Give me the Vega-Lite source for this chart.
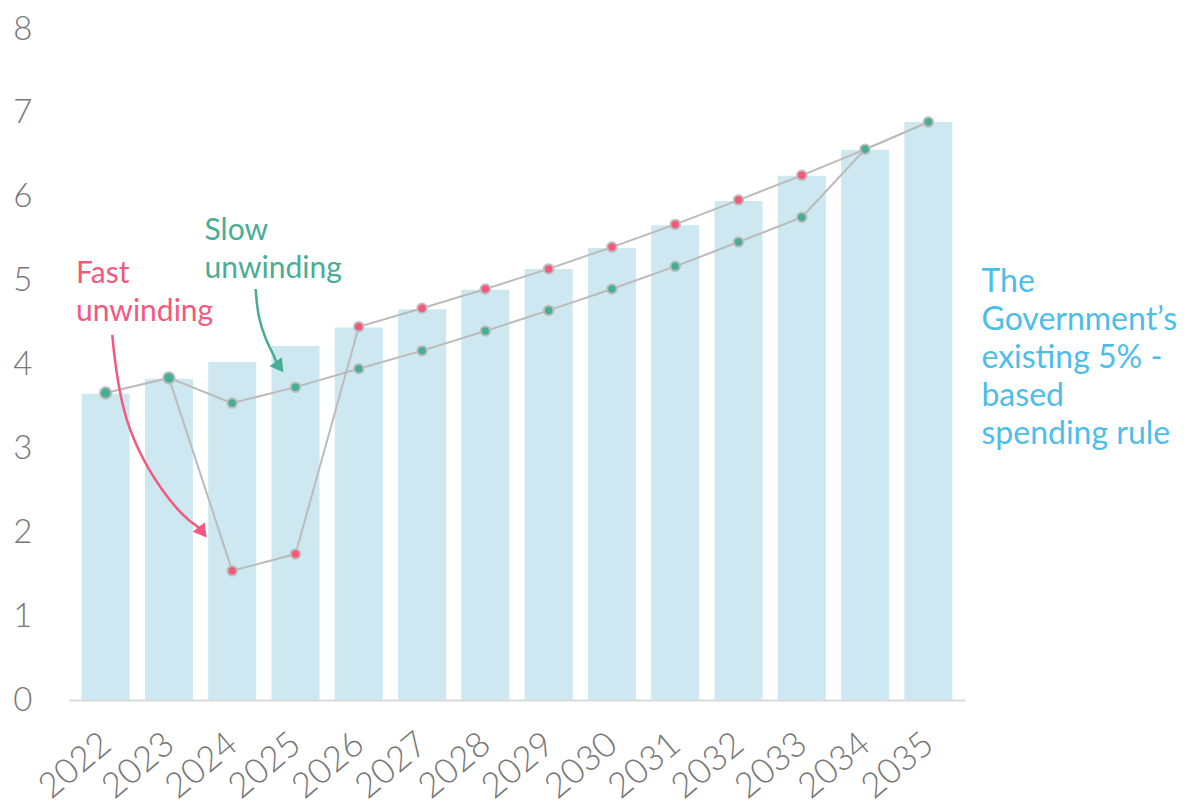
{
  "$schema": "https://vega.github.io/schema/vega-lite/v6.json",
  "width": 896,
  "height": 671,
  "autosize": {"type": "none"},
  "padding": {"left": 69, "top": 29, "right": 221, "bottom": 107},
  "background": "white",
  "config": {
    "view": {"stroke": null},
    "font": "Lato"
  },
  "datasets": {
    "bars": [
      {"year": 2022, "value": 3.65},
      {"year": 2023, "value": 3.83},
      {"year": 2024, "value": 4.03},
      {"year": 2025, "value": 4.22},
      {"year": 2026, "value": 4.44},
      {"year": 2027, "value": 4.66},
      {"year": 2028, "value": 4.89},
      {"year": 2029, "value": 5.14},
      {"year": 2030, "value": 5.39},
      {"year": 2031, "value": 5.66},
      {"year": 2032, "value": 5.95},
      {"year": 2033, "value": 6.25},
      {"year": 2034, "value": 6.56},
      {"year": 2035, "value": 6.89}
    ],
    "slow": [
      {"year": 2022, "value": 3.66},
      {"year": 2023, "value": 3.84},
      {"year": 2024, "value": 3.54},
      {"year": 2025, "value": 3.73},
      {"year": 2026, "value": 3.95},
      {"year": 2027, "value": 4.165},
      {"year": 2028, "value": 4.40},
      {"year": 2029, "value": 4.645},
      {"year": 2030, "value": 4.90},
      {"year": 2031, "value": 5.17},
      {"year": 2032, "value": 5.46},
      {"year": 2033, "value": 5.755},
      {"year": 2034, "value": 6.565},
      {"year": 2035, "value": 6.89}
    ],
    "fast": [
      {"year": 2023, "value": 3.84},
      {"year": 2024, "value": 1.54},
      {"year": 2025, "value": 1.74},
      {"year": 2026, "value": 4.45},
      {"year": 2027, "value": 4.67},
      {"year": 2028, "value": 4.90},
      {"year": 2029, "value": 5.14},
      {"year": 2030, "value": 5.40},
      {"year": 2031, "value": 5.67},
      {"year": 2032, "value": 5.96},
      {"year": 2033, "value": 6.255},
      {"year": 2034, "value": 6.565},
      {"year": 2035, "value": 6.89}
    ],
    "pinkArrow": [
      {"ord": 1, "ax": 2022.105, "ay": 4.352},
      {"ord": 2, "ax": 2022.141, "ay": 4.054},
      {"ord": 3, "ax": 2022.266, "ay": 3.458},
      {"ord": 4, "ax": 2022.5, "ay": 2.981},
      {"ord": 5, "ax": 2022.875, "ay": 2.504},
      {"ord": 6, "ax": 2023.234, "ay": 2.182},
      {"ord": 7, "ax": 2023.481, "ay": 2.051}
    ],
    "greenArrow": [
      {"ord": 1, "ax": 2024.370, "ay": 4.900},
      {"ord": 2, "ax": 2024.406, "ay": 4.566},
      {"ord": 3, "ax": 2024.531, "ay": 4.292},
      {"ord": 4, "ax": 2024.656, "ay": 4.113},
      {"ord": 5, "ax": 2024.703, "ay": 4.018}
    ],
    "heads": [
      {"ax": 2023.533, "ay": 2.0, "dir": 142, "who": "fast"},
      {"ax": 2024.748, "ay": 3.97, "dir": 144, "who": "slow"}
    ],
    "labels": [
      {"ax": 2021.531, "ay": 4.972, "who": "fast", "txt": ["Fast", "unwinding"], "fs": "small"},
      {"ax": 2023.563, "ay": 5.484, "who": "slow", "txt": ["Slow", "unwinding"], "fs": "small"},
      {"ax": 2035.839, "ay": 4.861, "who": "rule", "txt": ["The", "Government’s", "existing 5% -", "based", "spending rule"], "fs": "big"}
    ]
  },
  "layer": [
    {
      "data": {"name": "bars"},
      "mark": {"type": "bar", "size": 48, "color": "#cde8f1"},
      "encoding": {
        "x": {
          "field": "year", "type": "quantitative",
          "scale": {"domain": [2021.5, 2035.5], "nice": false, "zero": false},
          "axis": {
            "title": null,
            "values": [2022, 2023, 2024, 2025, 2026, 2027, 2028, 2029, 2030, 2031, 2032, 2033, 2034, 2035],
            "format": "d",
            "grid": false,
            "ticks": false,
            "domainColor": "#d9d9d9",
            "domainWidth": 2,
            "labelAngle": -40,
            "labelAlign": "right",
            "labelBaseline": "middle",
            "labelFontSize": 35,
            "labelFontWeight": 300,
            "labelColor": "#777777",
            "labelPadding": 39,
            "labelFlush": false,
            "labelOverlap": false
          }
        },
        "y": {
          "field": "value", "type": "quantitative",
          "scale": {"domain": [0, 8], "nice": false},
          "axis": {
            "title": null,
            "values": [0, 1, 2, 3, 4, 5, 6, 7, 8],
            "format": "d",
            "grid": false,
            "ticks": false,
            "domain": false,
            "labelFontSize": 33,
            "labelFontWeight": 300,
            "labelColor": "#777777",
            "labelPadding": 37
          }
        }
      }
    },
    {
      "data": {"name": "slow"},
      "mark": {"type": "line", "color": "#bbbbbb", "strokeWidth": 2},
      "encoding": {
        "x": {"field": "year", "type": "quantitative"},
        "y": {"field": "value", "type": "quantitative"}
      }
    },
    {
      "data": {"name": "fast"},
      "mark": {"type": "line", "color": "#bbbbbb", "strokeWidth": 2},
      "encoding": {
        "x": {"field": "year", "type": "quantitative"},
        "y": {"field": "value", "type": "quantitative"}
      }
    },
    {
      "data": {"name": "fast"},
      "transform": [{"filter": "datum.year >= 2024 && datum.year <= 2033"}],
      "mark": {"type": "point", "filled": true, "size": 90, "color": "#f5587d", "stroke": "#bdbdbd", "strokeWidth": 2, "opacity": 1},
      "encoding": {
        "x": {"field": "year", "type": "quantitative"},
        "y": {"field": "value", "type": "quantitative"}
      }
    },
    {
      "data": {"name": "slow"},
      "mark": {"type": "point", "filled": true, "color": "#47ad94", "stroke": "#bdbdbd", "strokeWidth": 2, "opacity": 1},
      "encoding": {
        "x": {"field": "year", "type": "quantitative"},
        "y": {"field": "value", "type": "quantitative"},
        "size": {"condition": {"test": "datum.year <= 2023", "value": 130}, "value": 90}
      }
    },
    {
      "data": {"name": "pinkArrow"},
      "mark": {"type": "line", "interpolate": "basis", "color": "#f5587d", "strokeWidth": 2.5},
      "encoding": {
        "x": {"field": "ax", "type": "quantitative"},
        "y": {"field": "ay", "type": "quantitative"},
        "order": {"field": "ord"}
      }
    },
    {
      "data": {"name": "greenArrow"},
      "mark": {"type": "line", "interpolate": "basis", "color": "#47ad94", "strokeWidth": 2.5},
      "encoding": {
        "x": {"field": "ax", "type": "quantitative"},
        "y": {"field": "ay", "type": "quantitative"},
        "order": {"field": "ord"}
      }
    },
    {
      "data": {"name": "heads"},
      "mark": {"type": "point", "shape": "triangle-up", "filled": true, "size": 230, "opacity": 1},
      "encoding": {
        "x": {"field": "ax", "type": "quantitative"},
        "y": {"field": "ay", "type": "quantitative"},
        "angle": {"field": "dir", "type": "quantitative", "scale": null},
        "color": {"field": "who", "type": "nominal", "scale": {"domain": ["fast", "slow", "rule"], "range": ["#f5587d", "#47ad94", "#4dbde9"]}, "legend": null}
      }
    },
    {
      "data": {"name": "labels"},
      "mark": {"type": "text", "align": "left", "baseline": "alphabetic", "lineHeight": 38, "clip": false},
      "encoding": {
        "x": {"field": "ax", "type": "quantitative"},
        "y": {"field": "ay", "type": "quantitative"},
        "text": {"field": "txt"},
        "size": {"field": "fs", "type": "nominal", "scale": {"domain": ["small", "big"], "range": [30, 32]}, "legend": null},
        "color": {"field": "who", "type": "nominal", "scale": {"domain": ["fast", "slow", "rule"], "range": ["#f5587d", "#47ad94", "#4dbde9"]}, "legend": null}
      }
    }
  ]
}
